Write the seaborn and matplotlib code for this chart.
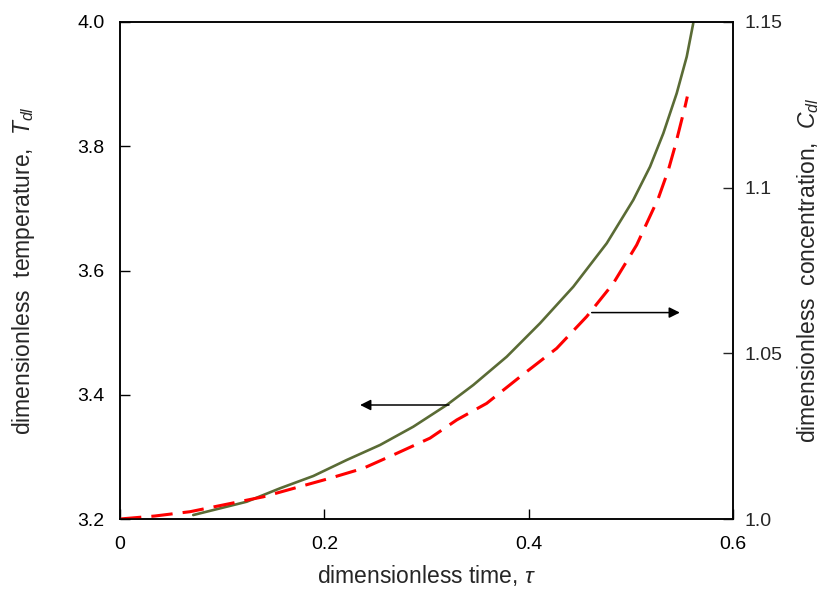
import matplotlib
matplotlib.use('Agg')
import matplotlib.pyplot as plt
import seaborn as sns
import pandas as pd

# values
tau_T = [0.0717, 0.124, 0.1566, 0.1892, 0.2219, 0.2545, 0.2871, 0.3198, 0.3458, 0.3785,
         0.4111, 0.4437, 0.4764, 0.5024, 0.5188, 0.5318, 0.5449, 0.5547, 0.5611]
temp = [3.2064, 3.2278, 3.2494, 3.2692, 3.295, 3.3191, 3.3486, 3.3835, 3.4157, 3.4612,
        3.515, 3.5739, 3.6438, 3.7135, 3.7671, 3.8208, 3.8852, 3.9441, 3.998]

tau_C = [0.0, 0.034, 0.0685, 0.1403, 0.2055, 0.2381, 0.2708, 0.3034, 0.3296, 0.3589, 0.3915,
         0.4274, 0.4568, 0.4828, 0.5057, 0.5269, 0.5367, 0.5432, 0.5481, 0.553, 0.5553]
conc = [1.0, 1.0009, 1.0022, 1.0067, 1.0123, 1.0153, 1.0198, 1.0244, 1.0299, 1.0349, 1.0429,
        1.0515, 1.0611, 1.0711, 1.0827, 1.0968, 1.1053, 1.1124, 1.1184, 1.1244, 1.1275]

x_ticks = [0, 0.2, 0.4, 0.6]
x_ticklabels = ['0', '0.2', '0.4', '0.6']
t_ticks = [3.2, 3.4, 3.6, 3.8, 4.0]
t_ticklabels = ['3.2', '3.4', '3.6', '3.8', '4.0']
c_ticks = [1.0, 1.05, 1.1, 1.15]
c_ticklabels = ['1.0', '1.05', '1.1', '1.15']

sns.set_style('white')
plt.rcParams['font.family'] = ['Liberation Sans', 'DejaVu Sans']
plt.rcParams['mathtext.fontset'] = 'custom'
plt.rcParams['mathtext.rm'] = 'Liberation Sans'
plt.rcParams['mathtext.it'] = 'Liberation Sans:italic'

df_T = pd.DataFrame({'tau': tau_T, 'T': temp})
df_C = pd.DataFrame({'tau': tau_C, 'C': conc})

fig = plt.figure(figsize=(8.22, 5.92), dpi=100)
ax = fig.add_axes([120 / 822, 1 - 519 / 592, 613 / 822, 497 / 592])
ax2 = ax.twinx()

sns.lineplot(data=df_T, x='tau', y='T', ax=ax, sort=False, color='#5a6b35', linewidth=1.9)
sns.lineplot(data=df_C, x='tau', y='C', ax=ax2, sort=False, color='#ff0000', linewidth=2.2)
ax2.lines[0].set_dashes((7, 3.3))

ax.set_xlim(0, 0.6)
ax.set_ylim(3.2, 4.0)
ax2.set_ylim(1.0, 1.15)

ax.set_xticks(x_ticks)
ax.set_xticklabels(x_ticklabels)
ax.set_yticks(t_ticks)
ax.set_yticklabels(t_ticklabels)
ax2.set_yticks(c_ticks)
ax2.set_yticklabels(c_ticklabels)

for a in (ax, ax2):
    for s in a.spines.values():
        s.set_visible(True)
        s.set_color('black')
        s.set_linewidth(1.1)
ax.tick_params(axis='both', direction='in', length=7, width=1, labelsize=14, colors='black')
ax.tick_params(axis='x', bottom=True, top=False, pad=12)
ax.tick_params(axis='y', left=True, right=False, pad=11)
ax2.tick_params(axis='y', direction='in', length=7, width=1, labelsize=14, right=True, left=False, pad=8)

ax.set_xlabel(r'dimensionless time, $\tau$', fontsize=16.5)
ax.set_ylabel(r'dimensionless  temperature,  $T_{dl}$', fontsize=16.5)
ax2.set_ylabel(r'dimensionless  concentration,  $C_{dl}$', fontsize=16.5)
ax.xaxis.set_label_coords(0.5, -0.088)
ax.yaxis.set_label_coords(-0.136, 0.5)
ax2.yaxis.set_label_coords(1.102, 0.5)

# direction arrows
ax.annotate('', xy=(0.235, 3.3835), xytext=(0.322, 3.3835),
            arrowprops=dict(arrowstyle='-|>', color='black', lw=1.1, mutation_scale=16, shrinkA=0, shrinkB=0))
ax2.annotate('', xy=(0.548, 1.0623), xytext=(0.4617, 1.0623),
             arrowprops=dict(arrowstyle='-|>', color='black', lw=1.1, mutation_scale=16, shrinkA=0, shrinkB=0))

fig.savefig('out.png', dpi=100)
